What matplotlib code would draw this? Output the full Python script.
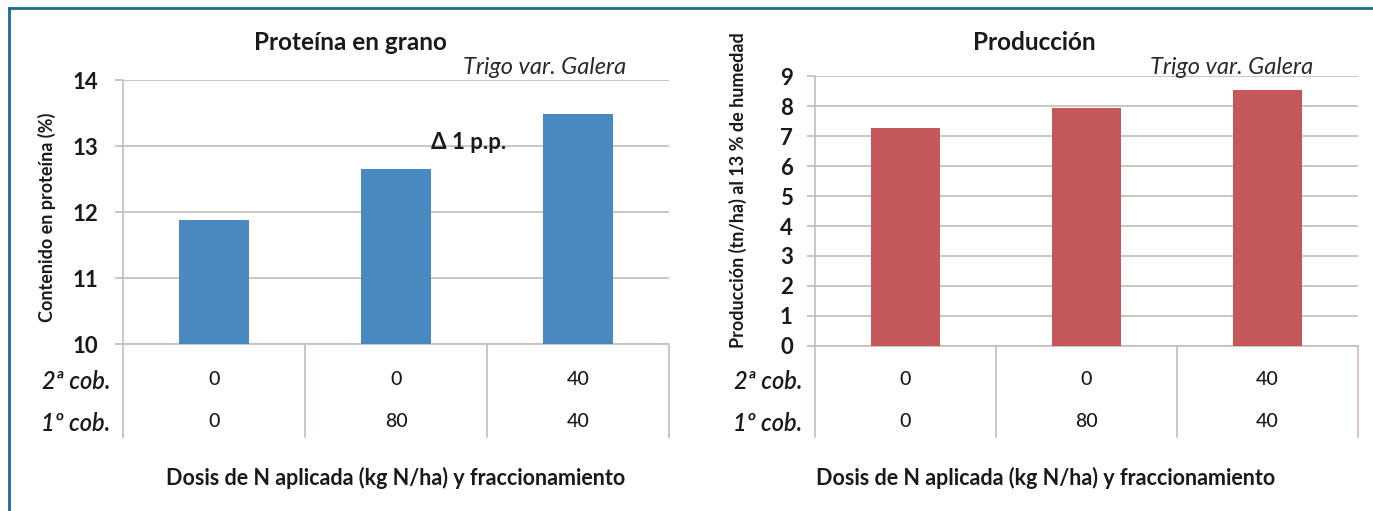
import numpy as np
import matplotlib
matplotlib.use('Agg')
import matplotlib.pyplot as plt
from matplotlib.transforms import blended_transform_factory
from matplotlib.lines import Line2D

plt.rcParams['font.family'] = ['Lato', 'DejaVu Sans']

# data
dose_2nd = ['0', '0', '40']
dose_1st = ['0', '80', '40']
row_labels = ['2ª cob.', '1º cob.']
protein = [11.88, 12.65, 13.48]
yield_tn = [7.27, 7.95, 8.52]

W, H = 1373, 511
fig = plt.figure(figsize=(W / 100, H / 100), dpi=100)

grid_col = '#c9c0bb'
txt = '#1a1a1a'


def fx(px):
    return px / W


def fy(py):
    return 1 - py / H


def draw_panel(rect, values, color, ylim, yticks, tick_fs, tick_pad, title,
               title_x, ylabel, ylabel_pos, ylabel_fs, trigo_x, xlabel_x):
    ax = fig.add_axes(rect)
    x = np.arange(len(values))
    ax.bar(x, np.array(values) - ylim[0], bottom=ylim[0], width=0.385,
           color=color, zorder=3)
    ax.set_xlim(-0.5, 2.5)
    ax.set_ylim(*ylim)
    ax.set_yticks(yticks)
    ax.set_yticklabels([str(t) for t in yticks], fontsize=tick_fs,
                       fontweight='bold', color=txt)
    ax.yaxis.grid(True, color=grid_col, lw=1.3, zorder=0)
    ax.tick_params(axis='y', length=6, color=grid_col, width=1.3, pad=tick_pad)
    ax.set_xticks([])
    for s in ['top', 'right']:
        ax.spines[s].set_visible(False)
    for s in ['left', 'bottom']:
        ax.spines[s].set_color(grid_col)
        ax.spines[s].set_linewidth(1.3)

    # category table under the axis
    tr = blended_transform_factory(ax.transData, fig.transFigure)
    y_bot = rect[1]
    for xb in [-0.5, 0.5, 1.5, 2.5]:
        ax.add_line(Line2D([xb, xb], [y_bot, fy(437)], transform=tr,
                           color=grid_col, lw=1.3, clip_on=False))
    for i in range(len(values)):
        ax.text(x[i], fy(379), dose_2nd[i], transform=tr, ha='center',
                va='center', fontsize=14, fontweight='medium', color=txt)
        ax.text(x[i], fy(421), dose_1st[i], transform=tr, ha='center',
                va='center', fontsize=14, fontweight='medium', color=txt)
    lab_x = rect[0] - fx(13)
    fig.text(lab_x, fy(381), row_labels[0], ha='right', va='center',
             fontsize=17, style='italic', fontweight='semibold', color=txt)
    fig.text(lab_x, fy(423), row_labels[1], ha='right', va='center',
             fontsize=17, style='italic', fontweight='semibold', color=txt)

    fig.text(fx(title_x), fy(42), title, ha='center', va='center',
             fontsize=17.5, fontweight='bold', color=txt)
    fig.text(fx(trigo_x), fy(68), 'Trigo var. Galera', ha='left',
             va='center', fontsize=17, style='italic', color='#2a2a2a')
    fig.text(fx(xlabel_x), fy(478), 'Dosis de N aplicada (kg N/ha) y fraccionamiento',
             ha='center', va='center', fontsize=15.5, fontweight='bold',
             color=txt)
    fig.text(fx(ylabel_pos[0]), fy(ylabel_pos[1]), ylabel, rotation=90,
             ha='center', va='center', fontsize=ylabel_fs, fontweight='bold',
             color=txt)
    return ax


ax1 = draw_panel([fx(123), fy(344), fx(669 - 123), (344 - 80) / H],
                 protein, '#4a89bf', (10, 14), [10, 11, 12, 13, 14], 16, 12,
                 'Proteína en grano', 350, 'Contenido en proteína (%)',
                 (47, 217), 13, 463, 396)
ax1.text(1.4, 13.06, 'Δ 1 p.p.', ha='center', va='center', fontsize=16,
         fontweight='bold', color=txt, zorder=4)

ax2 = draw_panel([fx(815), fy(346), fx(1358 - 815), (346 - 76) / H],
                 yield_tn, '#c4575a', (0, 9), list(range(10)), 16, 10,
                 'Producción', 1034, 'Producción (tn/ha) al 13 % de humedad',
                 (738, 190), 13, 1150, 1046)

# frame
fig.add_artist(Line2D([fx(9), 1], [fy(8), fy(8)], color='#1b6a92', lw=2))
fig.add_artist(Line2D([fx(9), fx(9)], [fy(8), 0], color='#1b6a92', lw=2))

fig.savefig('out.png', dpi=100)
